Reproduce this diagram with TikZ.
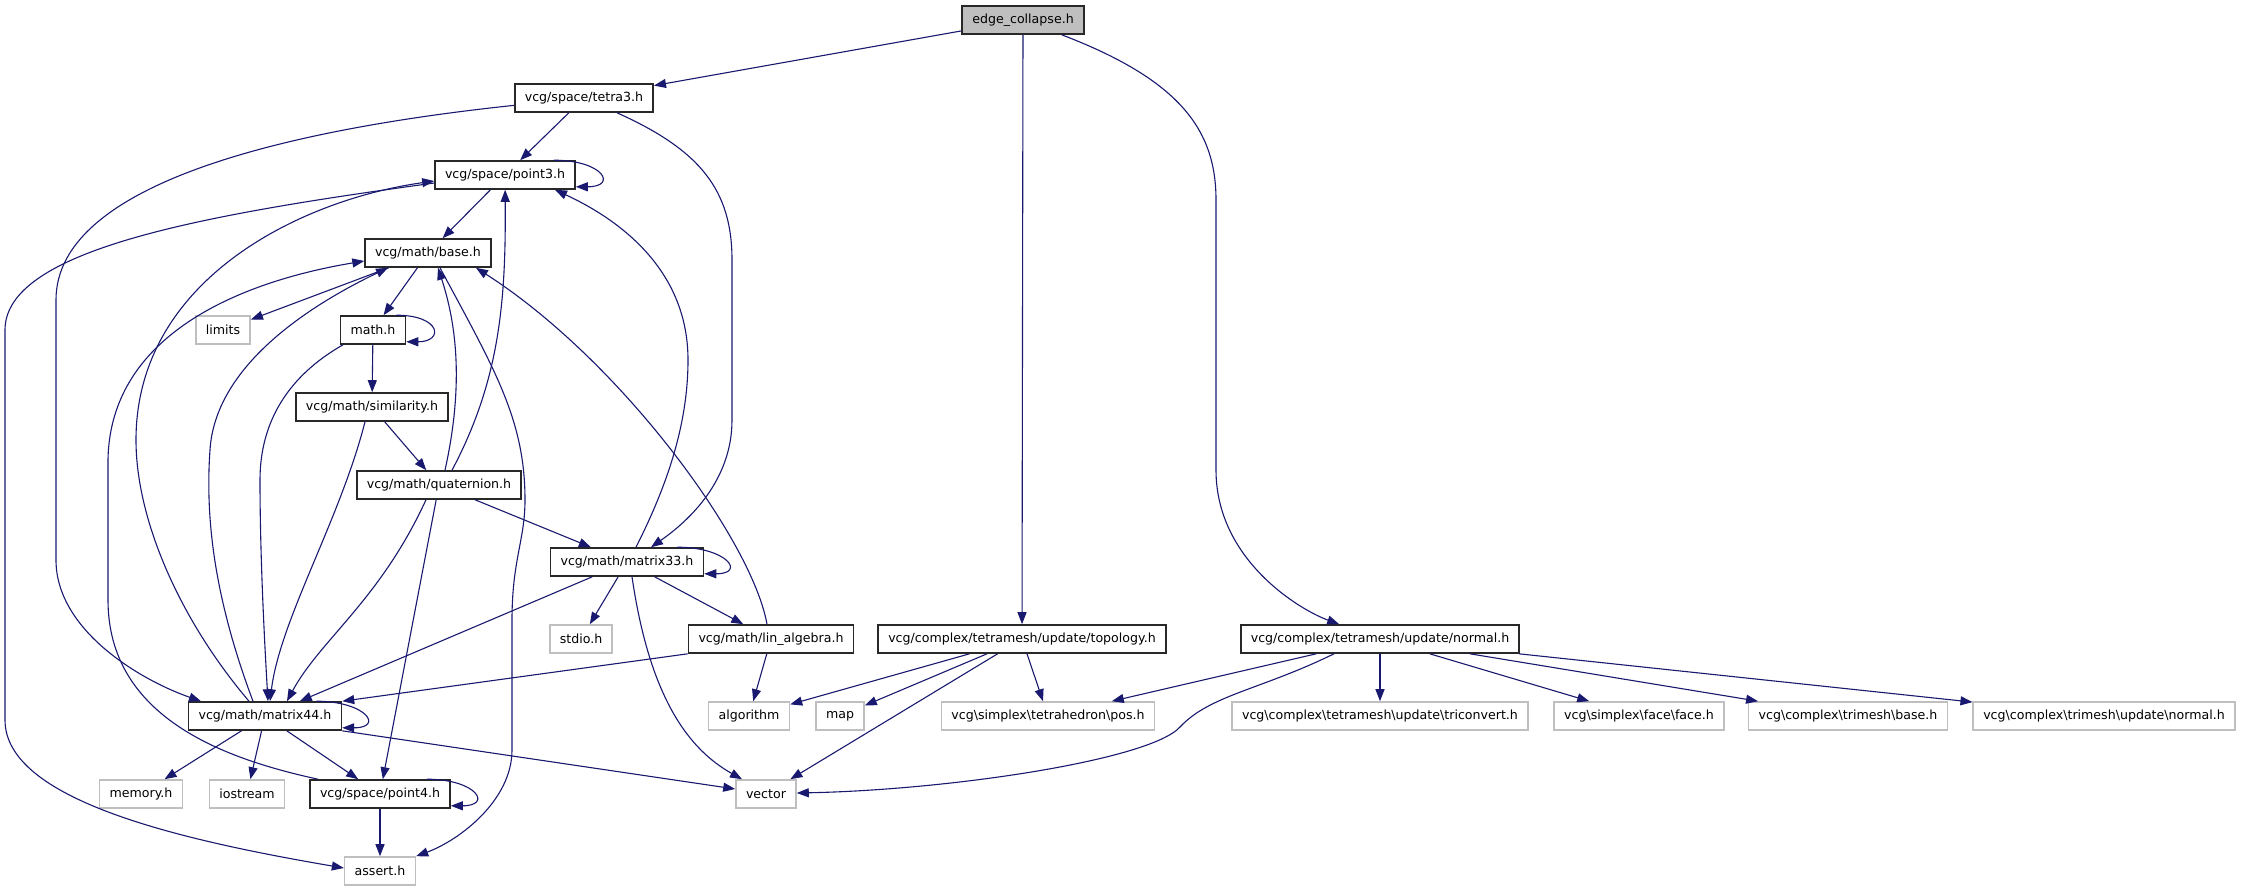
\documentclass[tikz,border=0pt]{standalone}
\usepackage{fontspec}
\setmainfont{DejaVu Sans}
\usetikzlibrary{arrows.meta}
\definecolor{edgeBlue}{RGB}{25,25,112}
\definecolor{sysGray}{RGB}{191,191,191}
\definecolor{rootFill}{RGB}{191,191,191}
\definecolor{boxDraw}{RGB}{40,40,40}

\begin{document}
\begin{tikzpicture}[
  x=1pt, y=-1pt,
  font=\fontsize{12.6}{15}\selectfont,
  file/.style={draw=boxDraw, line width=1.6pt, fill=white, minimum height=28pt, inner xsep=10pt, inner ysep=0pt},
  sysfile/.style={file, draw=sysGray},
  root/.style={file, fill=rootFill},
  dep/.style={draw=edgeBlue, line width=1.1pt, -{Triangle[length=12pt,width=9pt]}}
]

% Canvas.
\fill[white] (0,0) rectangle (2241,891);

% Project headers.
\node[root] (ec) at (1023,20) {edge\_collapse.h};
\node[file] (tet) at (584,98) {vcg/space/tetra3.h};
\node[file] (pthree) at (505,175) {vcg/space/point3.h};
\node[file] (mbase) at (428,253) {vcg/math/base.h};
\node[file] (mathh) at (373,330) {math.h};
\node[file] (simil) at (372,407) {vcg/math/similarity.h};
\node[file] (quat) at (439,485) {vcg/math/quaternion.h};
\node[file] (mthree) at (627,562) {vcg/math/matrix33.h};
\node[file] (linalg) at (771,639) {vcg/math/lin\_algebra.h};
\node[file] (topo) at (1022,639) {vcg/complex/tetramesh/update/topology.h};
\node[file] (tnormal) at (1380,639) {vcg/complex/tetramesh/update/normal.h};
\node[file] (mfour) at (265,716) {vcg/math/matrix44.h};
\node[file] (pfour) at (380,794) {vcg/space/point4.h};

% System and unresolved headers.
\node[sysfile] (limits) at (223,330) {limits};
\node[sysfile] (stdio) at (581,639) {stdio.h};
\node[sysfile] (algo) at (749,716) {algorithm};
\node[sysfile] (map) at (840,716) {map};
\node[sysfile] (pos) at (1048,716) {vcg\textbackslash simplex\textbackslash tetrahedron\textbackslash pos.h};
\node[sysfile] (triconv) at (1380,716) {vcg\textbackslash complex\textbackslash tetramesh\textbackslash update\textbackslash triconvert.h};
\node[sysfile] (face) at (1639,716) {vcg\textbackslash simplex\textbackslash face\textbackslash face.h};
\node[sysfile] (tribase) at (1848,716) {vcg\textbackslash complex\textbackslash trimesh\textbackslash base.h};
\node[sysfile] (trinormal) at (2104,716) {vcg\textbackslash complex\textbackslash trimesh\textbackslash update\textbackslash normal.h};
\node[sysfile] (memory) at (141,794) {memory.h};
\node[sysfile] (iostream) at (247,794) {iostream};
\node[sysfile] (vector) at (766,794) {vector};
\node[sysfile] (assert) at (380,871) {assert.h};

% edge_collapse.h
\draw[dep] (ec) -- (tet);
\draw[dep] (ec) -- (topo);
\draw[dep] (ec) .. controls (1180,80) and (1216,130) .. (1216,200)
  -- (1216,470) .. controls (1216,560) and (1300,610) .. (tnormal);

% tetra3.h
\draw[dep] (tet) -- (pthree);
\draw[dep] (tet) .. controls (300,128) and (56,180) .. (56,300)
  -- (56,560) .. controls (56,630) and (140,680) .. ([xshift=-64pt]mfour.north);
\draw[dep] ([xshift=33pt]tet.south) .. controls (700,150) and (732,190) .. (732,260)
  -- (732,420) .. controls (732,480) and (690,520) .. ([xshift=24pt]mthree.north);

% point3.h
\draw[dep] ([xshift=-22pt]pthree.north east) .. controls +(50,0) and +(42,0) .. ([yshift=3pt]pthree.south east);
\draw[dep] (pthree) -- (mbase);
\draw[dep] ([yshift=-8pt]pthree.west) .. controls (200,215) and (5,250) .. (5,330)
  -- (5,720) .. controls (5,800) and (180,840) .. ([yshift=3pt]assert.west);

% base.h
\draw[dep] (mbase) -- (limits);
\draw[dep] (mbase) -- (mathh);
\draw[dep] ([xshift=12pt]mbase.south) .. controls (495,370) and (525,420) .. (525,500)
  .. controls (525,540) and (512,560) .. (512,620)
  -- (512,750) .. controls (512,800) and (460,840) .. (assert.north east);

% math.h
\draw[dep] ([xshift=-10pt]mathh.north east) .. controls +(45,0) and +(38,0) .. ([yshift=3pt]mathh.south east);
\draw[dep] (mathh) -- (simil);
\draw[dep] ([xshift=-30pt]mathh.south) .. controls (290,375) and (260,420) .. (260,480)
  .. controls (260,560) and (265,650) .. ([xshift=3pt]mfour.north);

% similarity.h
\draw[dep] (simil) -- (quat);
\draw[dep] ([xshift=-7pt]simil.south) .. controls (340,520) and (280,620) .. ([xshift=5pt]mfour.north);

% quaternion.h
\draw[dep] ([xshift=13pt]quat.north) .. controls (500,380) and (506,300) .. (pthree);
\draw[dep] ([xshift=6pt]quat.north) .. controls (465,380) and (455,320) .. ([xshift=10pt]mbase.south);
\draw[dep] ([xshift=-13pt]quat.south) .. controls (380,600) and (320,640) .. ([xshift=22pt]mfour.north);
\draw[dep] (quat) -- (pfour);
\draw[dep] (quat) -- (mthree);

% matrix33.h
\draw[dep] ([xshift=-27pt]mthree.north east) .. controls +(50,0) and +(42,0) .. ([yshift=3pt]mthree.south east);
\draw[dep] ([xshift=9pt]mthree.north) .. controls (670,480) and (688,420) .. (688,360)
  .. controls (688,270) and (620,220) .. ([xshift=50pt]pthree.south);
\draw[dep] (mthree) -- (mfour);
\draw[dep] (mthree) -- (stdio);
\draw[dep] (mthree) -- (linalg);
\draw[dep] ([xshift=5pt]mthree.south) .. controls (650,700) and (690,750) .. ([xshift=-24pt]vector.north);

% lin_algebra.h
\draw[dep] ([xshift=-4pt]linalg.north) .. controls (752,540) and (620,360) .. ([xshift=48pt]mbase.south);
\draw[dep] (linalg.south west) -- (mfour.north east);
\draw[dep] (linalg) -- (algo);

% matrix44.h
\draw[dep] ([xshift=-26pt]mfour.north east) .. controls +(50,0) and +(42,0) .. ([yshift=3pt]mfour.south east);
\draw[dep] ([xshift=-16pt]mfour.north) .. controls (180,620) and (136,520) .. (136,440)
  .. controls (136,280) and (300,200) .. ([yshift=-6pt]pthree.west);
\draw[dep] ([xshift=-12pt]mfour.north) .. controls (215,600) and (205,520) .. (210,450)
  .. controls (215,370) and (300,310) .. ([xshift=-40pt]mbase.south);
\draw[dep] (mfour) -- (memory);
\draw[dep] (mfour) -- (iostream);
\draw[dep] (mfour) -- (pfour);
\draw[dep] (mfour.south east) -- ([yshift=5pt]vector.west);

% point4.h
\draw[dep] ([xshift=-24pt]pfour.north east) .. controls +(50,0) and +(42,0) .. ([yshift=3pt]pfour.south east);
\draw[dep] (pfour) -- (assert);
\draw[dep] ([xshift=-62pt]pfour.north) .. controls (230,760) and (108,720) .. (108,600)
  -- (108,460) .. controls (110,330) and (250,280) .. ([yshift=-8pt]mbase.west);

% topology.h
\draw[dep] (topo) -- (algo);
\draw[dep] (topo) -- (map);
\draw[dep] (topo) -- (vector);
\draw[dep] (topo) -- (pos);

% tetramesh normal.h
\draw[dep] (tnormal) -- (pos);
\draw[dep] ([xshift=-46pt]tnormal.south) .. controls (1260,690) and (1210,695) .. (1180,727)
  .. controls (1150,760) and (950,790) .. ([yshift=1pt]vector.east);
\draw[dep] (tnormal) -- (triconv);
\draw[dep] (tnormal) -- (face);
\draw[dep] (tnormal) -- (tribase);
\draw[dep] (tnormal) -- (trinormal);

\end{tikzpicture}
\end{document}
